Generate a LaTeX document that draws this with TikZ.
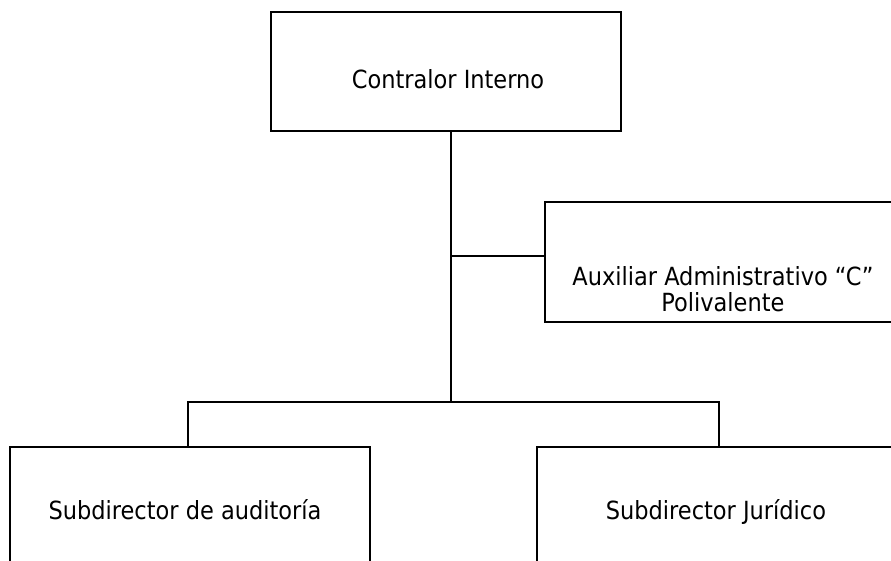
\documentclass[tikz,border=0pt]{standalone}
\usepackage{fontspec}
\setmainfont{DejaVu Sans Condensed}
\begin{document}
\begin{tikzpicture}[x=1pt,y=-1pt,
  box/.style={draw, line width=2pt, inner sep=0pt},
  lbl/.style={font=\fontsize{25}{26}\selectfont, align=center, inner sep=0pt},
  conn/.style={line width=2pt}]
\useasboundingbox (0,0) rectangle (891,561);
\clip (0,0) rectangle (891,561);
\node[box, minimum width=350pt, minimum height=119pt] (ci) at (446,71.5) {};
\node[box, minimum width=356pt, minimum height=120pt] (aux) at (723,262) {};
\node[box, minimum width=360pt, minimum height=140pt] (sa) at (190,517) {};
\node[box, minimum width=358pt, minimum height=140pt] (sj) at (716,517) {};
\node[lbl, anchor=base] (ciT) at (448,89) {Contralor Interno};
\node[lbl] (auxT) at (723,289) {Auxiliar Administrativo “C”\\Polivalente};
\node[lbl, anchor=base] (saT) at (185,519) {Subdirector de auditoría};
\node[lbl, anchor=base] (sjT) at (716,519) {Subdirector Jurídico};
\coordinate (j1) at (451,256);
\coordinate (bl) at (188,402);
\coordinate (br) at (719,402);
\draw[conn] (ci.south -| j1) -- (j1 |- bl);
\draw[conn] (j1) -- (j1 -| aux.west);
\draw[conn] (bl |- sa.north) -- (bl) -- (br) -- (br |- sj.north);
\end{tikzpicture}
\end{document}
